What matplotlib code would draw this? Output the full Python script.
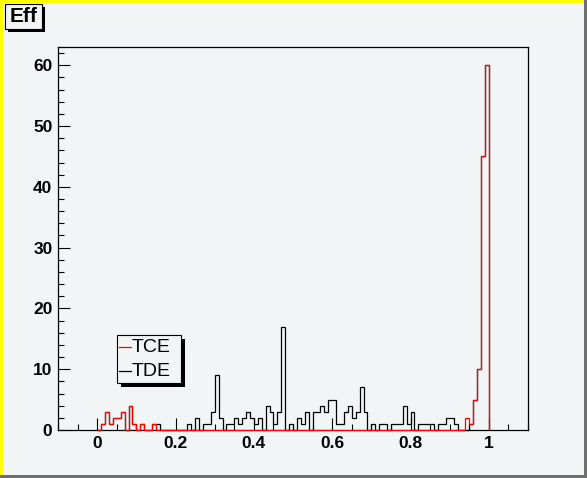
import numpy as np
import matplotlib
matplotlib.use("Agg")
import matplotlib.pyplot as plt
from matplotlib.patches import Rectangle
from matplotlib.ticker import MultipleLocator, FixedLocator, FixedFormatter

# ---- data: 100 bins of width 0.01 from 0 to 1 ----
bin_edges = np.round(np.arange(0, 101) * 0.01, 2)

tde_counts = [
    0, 1, 3, 1, 2, 2, 3, 0, 4, 1,      # 0.00-0.09
    0, 1, 0, 0, 1, 1, 0, 0, 0, 0,      # 0.10-0.19
    0, 0, 0, 1, 0, 2, 0, 1, 1, 3,      # 0.20-0.29
    9, 2, 0, 1, 1, 2, 1, 2, 3, 2,      # 0.30-0.39
    1, 2, 0, 4, 3, 1, 3, 17, 0, 1,     # 0.40-0.49
    0, 2, 1, 3, 0, 3, 3, 4, 3, 5,      # 0.50-0.59
    5, 1, 1, 3, 4, 2, 3, 7, 3, 0,      # 0.60-0.69
    1, 0, 1, 1, 0, 1, 1, 1, 4, 1,      # 0.70-0.79
    3, 0, 1, 1, 1, 1, 0, 1, 1, 2,      # 0.80-0.89
    2, 1, 0, 0, 0, 1, 5, 10, 45, 60,   # 0.90-0.99
]

tce_counts = [
    0, 1, 3, 1, 2, 2, 3, 0, 4, 1,
    0, 1, 0, 0, 1, 0, 0, 0, 0, 0,
    0, 0, 0, 0, 0, 0, 0, 0, 0, 0,
    0, 0, 0, 0, 0, 0, 0, 0, 0, 0,
    0, 0, 0, 0, 0, 0, 0, 0, 0, 0,
    0, 0, 0, 0, 0, 0, 0, 0, 0, 0,
    0, 0, 0, 0, 0, 0, 0, 0, 0, 0,
    0, 0, 0, 0, 0, 0, 0, 0, 0, 0,
    0, 0, 0, 0, 0, 0, 0, 0, 0, 0,
    0, 0, 0, 0, 2, 1, 5, 10, 45, 60,
]

series_names = ["TCE", "TDE"]
x_ticks = [0, 0.2, 0.4, 0.6, 0.8, 1.0]
x_ticklabels = ["0", "0.2", "0.4", "0.6", "0.8", "1"]
y_ticks = [0, 10, 20, 30, 40, 50, 60]
y_ticklabels = ["0", "10", "20", "30", "40", "50", "60"]
title_text = "Eff"

# ---- figure ----
W, H = 587, 478
BG = "#f2f5f6"
plt.rcParams["font.family"] = ["Liberation Sans", "DejaVu Sans"]
fig = plt.figure(figsize=(W / 100, H / 100), dpi=100, facecolor=BG)

def px_rect(x0, y0, x1, y1):
    """figure-fraction rect from pixel coords (top-left origin)"""
    return (x0 / W, 1 - y1 / H, (x1 - x0) / W, (y1 - y0) / H)

# canvas border: yellow highlight top/left, dark shadow bottom/right
for (x0, y0, x1, y1, c) in [
    (0, 0, W, 3, "#ffff00"), (0, 0, 3, H, "#ffff00"),
    (W - 3, 0, W, H, "#6f6f6f"), (0, H - 3, W, H, "#6f6f6f"),
]:
    x, y, w, h = px_rect(x0, y0, x1, y1)
    fig.patches.append(Rectangle((x, y), w, h, transform=fig.transFigure,
                                 facecolor=c, edgecolor="none", zorder=0))

ax = fig.add_axes(px_rect(58, 47, 528, 430))
ax.set_facecolor(BG)

ax.stairs(tde_counts, bin_edges, color="black", linewidth=0.9, baseline=0, zorder=3,
          label=series_names[1], clip_on=False)
ax.stairs(tce_counts, bin_edges, color="red", linewidth=0.9, baseline=0, zorder=4,
          label=series_names[0], clip_on=False)

ax.set_xlim(-0.1, 1.1)
ax.set_ylim(0, 63)

ax.xaxis.set_major_locator(FixedLocator(x_ticks))
ax.xaxis.set_major_formatter(FixedFormatter(x_ticklabels))
ax.xaxis.set_minor_locator(MultipleLocator(0.05))
ax.yaxis.set_major_locator(FixedLocator(y_ticks))
ax.yaxis.set_major_formatter(FixedFormatter(y_ticklabels))
ax.yaxis.set_minor_locator(MultipleLocator(2))

ax.tick_params(which="major", direction="in", length=8.5, width=0.8, labelsize=12.5, pad=4)
ax.tick_params(which="minor", direction="in", length=4.3, width=0.8)
for lab in ax.get_xticklabels() + ax.get_yticklabels():
    lab.set_fontweight("bold")
for s in ax.spines.values():
    s.set_linewidth(0.9)
    s.set_zorder(2)

# legend box with shadow (drawn manually, ROOT style)
lx0, ly0, lx1, ly1 = 117, 335, 181, 383
sx, sy, sw, sh = px_rect(lx0 + 4, ly0 + 4, lx1 + 4, ly1 + 4)
fig.patches.append(Rectangle((sx, sy), sw, sh, transform=fig.transFigure,
                             facecolor="black", edgecolor="none", zorder=5))
bx, by, bw, bh = px_rect(lx0, ly0, lx1, ly1)
fig.patches.append(Rectangle((bx, by), bw, bh, transform=fig.transFigure,
                             facecolor=BG, edgecolor="black", linewidth=0.8, zorder=6))
for i, (name, col) in enumerate([(series_names[0], "red"), (series_names[1], "black")]):
    yc = 347 + i * 24
    fig.add_artist(plt.Line2D([119 / W, 131 / W], [1 - yc / H, 1 - yc / H],
                              color=col, linewidth=0.9, transform=fig.transFigure, zorder=7))
    fig.text(132 / W, 1 - yc / H, name, fontsize=14, va="center", ha="left", zorder=7)

# title box with shadow
tx0, ty0, tx1, ty1 = 5, 4, 42, 29
sx, sy, sw, sh = px_rect(tx0 + 3, ty0 + 3, tx1 + 3, ty1 + 3)
fig.patches.append(Rectangle((sx, sy), sw, sh, transform=fig.transFigure,
                             facecolor="black", edgecolor="none", zorder=5))
bx, by, bw, bh = px_rect(tx0, ty0, tx1, ty1)
fig.patches.append(Rectangle((bx, by), bw, bh, transform=fig.transFigure,
                             facecolor=BG, edgecolor="black", linewidth=0.8, zorder=6))
fig.text((tx0 + tx1) / 2 / W, 1 - (ty0 + ty1) / 2 / H, title_text, fontsize=15,
         fontweight="bold", ha="center", va="center", zorder=7)

fig.savefig("out.png", dpi=100, facecolor=BG)
